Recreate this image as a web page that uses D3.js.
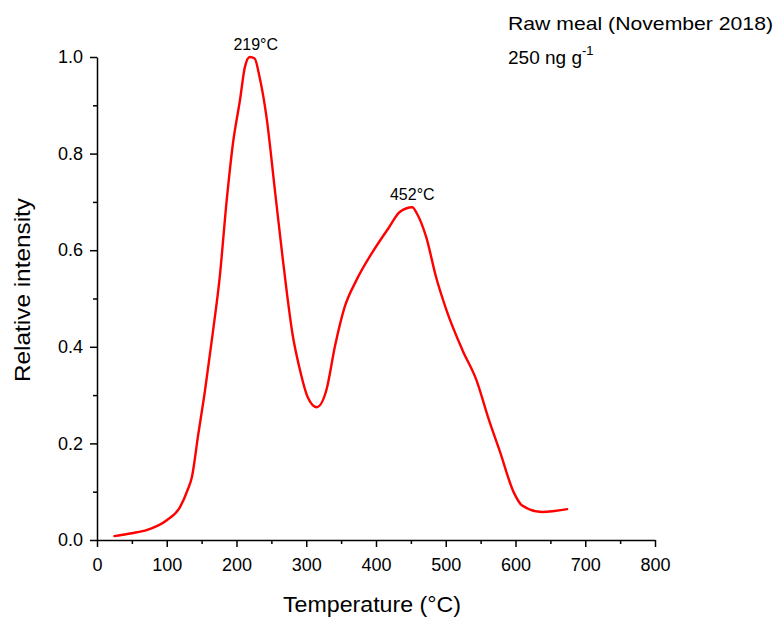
<!DOCTYPE html>
<html>
<head>
<meta charset="utf-8">
<script src="https://cdn.jsdelivr.net/npm/d3@7/dist/d3.min.js"></script>
<style>
  html, body { margin: 0; padding: 0; background: #fff; }
  svg { display: block; font-family: "Liberation Sans", Arial, sans-serif; }
</style>
</head>
<body>
<svg id="chart" width="777" height="617"></svg>
<script>
// Thermal desorption profile: temperature (°C) vs relative intensity
const temperature = [25, 50, 72, 100, 119, 130, 136, 145, 155, 166, 176, 186, 195, 205, 212, 219, 226, 233, 243, 255, 266, 273, 280, 290, 302, 315, 329, 341, 355, 372, 395, 419, 434, 452, 459, 472, 486, 501, 524, 544, 562, 577, 598, 609, 638, 674];
const intensity   = [0.008, 0.014, 0.021, 0.041, 0.068, 0.104, 0.130, 0.217, 0.311, 0.429, 0.545, 0.704, 0.822, 0.911, 0.979, 1.0, 0.997, 0.959, 0.876, 0.725, 0.586, 0.503, 0.429, 0.358, 0.296, 0.275, 0.311, 0.40, 0.482, 0.538, 0.596, 0.648, 0.679, 0.689, 0.675, 0.627, 0.545, 0.476, 0.393, 0.331, 0.248, 0.186, 0.097, 0.072, 0.058, 0.064];

const peakTemps = [219, 452];
const xTicks = [0, 100, 200, 300, 400, 500, 600, 700, 800];
const xMinorTicks = [50, 150, 250, 350, 450, 550, 650, 750];
const yTicks = [0.0, 0.2, 0.4, 0.6, 0.8, 1.0];
const yMinorTicks = [0.1, 0.3, 0.5, 0.7, 0.9];
const sampleName = "Raw meal (November 2018)";
const concentration = "250 ng g";
const concentrationExp = "-1";

const data = temperature.map((t, i) => ({ t, v: intensity[i] }));

const svg = d3.select("#chart");
const plotLeft = 97, plotRight = 655, plotTop = 57, plotBottom = 540;

const x = d3.scaleLinear().domain([0, 800]).range([plotLeft, plotRight]);
const y = d3.scaleLinear().domain([0, 1]).range([plotBottom, plotTop]);

// Curve
const line = d3.line()
  .x(d => x(d.t))
  .y(d => y(d.v))
  .curve(d3.curveMonotoneX);

svg.append("path")
  .datum(data)
  .attr("d", line)
  .attr("fill", "none")
  .attr("stroke", "#ff0000")
  .attr("stroke-width", 2.4)
  .attr("stroke-linejoin", "round")
  .attr("stroke-linecap", "round");

// X axis with major and minor ticks
const gx = svg.append("g").attr("transform", `translate(0,${plotBottom})`);
gx.call(d3.axisBottom(x).tickValues(xMinorTicks).tickSize(4).tickFormat(""));
gx.call(g => g.select(".domain").remove());
const gx2 = svg.append("g").attr("transform", `translate(0,${plotBottom})`);
gx2.call(d3.axisBottom(x).tickValues(xTicks).tickSize(7).tickSizeOuter(0).tickPadding(11).tickFormat(d3.format("d")));

// Y axis with major and minor ticks
const gy = svg.append("g").attr("transform", `translate(${plotLeft},0)`);
gy.call(d3.axisLeft(y).tickValues(yMinorTicks).tickSize(4).tickFormat(""));
gy.call(g => g.select(".domain").remove());
const gy2 = svg.append("g").attr("transform", `translate(${plotLeft},0)`);
gy2.call(d3.axisLeft(y).tickValues(yTicks).tickSize(7).tickSizeOuter(0).tickPadding(7).tickFormat(d3.format(".1f")));

svg.selectAll(".domain, .tick line")
  .attr("stroke", "#000")
  .attr("stroke-width", 1.5);
svg.selectAll(".tick text")
  .attr("fill", "#000")
  .style("font-size", "18px")
  .style("font-family", "'Liberation Sans', Arial, sans-serif");

// Axis titles
svg.append("text")
  .attr("x", 372)
  .attr("y", 612)
  .attr("text-anchor", "middle")
  .attr("textLength", 178)
  .attr("lengthAdjust", "spacingAndGlyphs")
  .style("font-size", "22px")
  .text("Temperature (°C)");

svg.append("text")
  .attr("transform", "translate(30,290) rotate(-90)")
  .attr("text-anchor", "middle")
  .attr("textLength", 184)
  .attr("lengthAdjust", "spacingAndGlyphs")
  .style("font-size", "22px")
  .text("Relative intensity");

// Peak labels
const peakLabelShift = [6, 0];
peakTemps.forEach((pt, k) => {
  const i = temperature.indexOf(pt);
  svg.append("text")
    .attr("x", x(pt) + peakLabelShift[k])
    .attr("y", y(intensity[i]) - 7)
    .attr("text-anchor", "middle")
    .style("font-size", "16px")
    .text(`${pt}°C`);
});

// Sample annotation
const note = svg.append("g").style("font-size", "19px");
note.append("text").attr("x", 508).attr("y", 30)
  .attr("textLength", 265).attr("lengthAdjust", "spacingAndGlyphs")
  .text(sampleName);
const conc = note.append("text").attr("x", 508).attr("y", 64);
conc.append("tspan").text(concentration);
conc.append("tspan").attr("dy", -9).style("font-size", "13px").text(concentrationExp);
</script>
</body>
</html>
